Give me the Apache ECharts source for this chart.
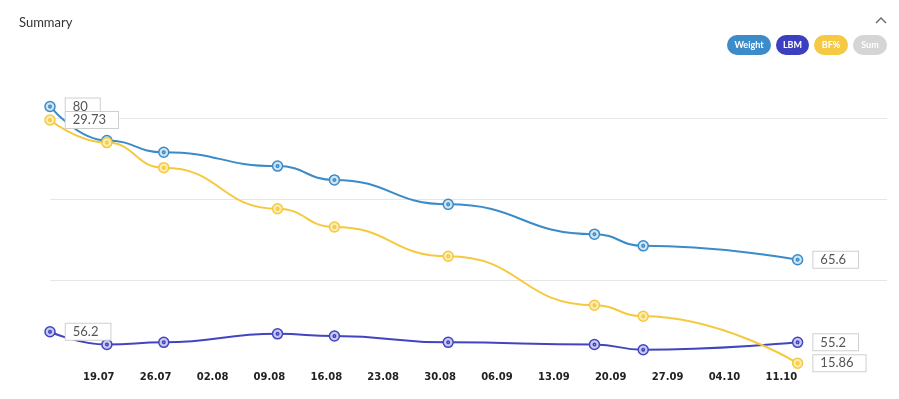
<!DOCTYPE html>
<html>
<head>
<meta charset="utf-8">
<script src="https://cdn.jsdelivr.net/npm/echarts@6/dist/echarts.min.js"></script>
<style>
  html, body { margin: 0; padding: 0; background: #fff; }
  #summary { width: 899px; height: 399px; }
</style>
</head>
<body>
<div id="summary"></div>
<script>
var dom = document.getElementById("summary");
var myChart = echarts.init(dom);

// measurement dates and values
var dates = ['2021-07-13', '2021-07-20', '2021-07-27', '2021-08-10', '2021-08-17',
             '2021-08-31', '2021-09-18', '2021-09-24', '2021-10-13'];
var weight  = [80, 76.8, 75.7, 74.4, 73.1, 70.8, 68.0, 66.9, 65.6];
var lbm     = [56.2, 55.0, 55.2, 56.0, 55.8, 55.2, 55.0, 54.5, 55.2];
var bodyFat = [29.73, 28.44, 27.01, 24.67, 23.63, 21.96, 19.17, 18.54, 15.86];

// weekly tick labels on the x axis
var tickDates = ['2021-07-19', '2021-07-26', '2021-08-02', '2021-08-09', '2021-08-16',
                 '2021-08-23', '2021-08-30', '2021-09-06', '2021-09-13', '2021-09-20',
                 '2021-09-27', '2021-10-04', '2021-10-11'];

var legendNames  = ['Weight', 'LBM', 'BF%', 'Sum'];
var legendColors = ['#3d8cca', '#3c3fc0', '#f6c945', '#d5d5d5'];

function toTime(s) {
    var p = s.split('-');
    return new Date(+p[0], +p[1] - 1, +p[2]).getTime();
}
function pad(n) { return (n < 10 ? '0' : '') + n; }

var dotSymbol = 'path://M10,0A10,10,0,1,1,9.99,0Z M10,7.5A2.5,2.5,0,1,1,9.99,7.5Z';

function makeData(values) {
    return values.map(function (v, i) {
        var edge = (i === 0 || i === values.length - 1);
        return { value: [toTime(dates[i]), v], label: { show: edge } };
    });
}

function makeSeries(name, values, axis, color, fill) {
    return {
        name: name,
        type: 'line',
        yAxisIndex: axis,
        smooth: 0.5,
        smoothMonotone: 'x',
        clip: false,
        symbol: dotSymbol,
        symbolSize: 10,
        lineStyle: { color: color, width: 2 },
        itemStyle: { color: fill, borderColor: color, borderWidth: 1.5 },
        label: {
            position: 'right',
            distance: 10,
            color: '#555',
            fontFamily: 'Lato',
            fontSize: 13,
            backgroundColor: '#fff',
            borderColor: '#cfcfcf',
            borderWidth: 1,
            padding: [2, 12, 1, 7],
            formatter: function (p) { return p.value[1]; }
        },
        data: makeData(values)
    };
}

var pills = [];
var pillX = [727, 776, 814, 853];
var pillW = [44, 33, 34, 34];
legendNames.forEach(function (name, i) {
    pills.push({
        type: 'group',
        left: pillX[i],
        top: 35,
        children: [
            { type: 'rect', shape: { x: 0, y: 0, width: pillW[i], height: 20, r: 10 },
              style: { fill: legendColors[i] } },
            { type: 'text', x: pillW[i] / 2, y: 10,
              style: { text: name, fill: '#fff', font: 'bold 9px Lato', align: 'center', verticalAlign: 'middle' } }
        ]
    });
});

option = {
    backgroundColor: '#fff',
    animation: false,
    title: {
        text: 'Summary',
        left: 14,
        top: 11,
        textStyle: { fontFamily: 'Lato', fontSize: 13, fontWeight: 'normal', color: '#333' }
    },
    graphic: pills.concat([
        { type: 'polyline', shape: { points: [[876, 23], [881, 18], [886, 23]] },
          style: { stroke: '#666', lineWidth: 1.3, fill: null } }
    ]),
    grid: { left: 50, right: 12, top: 37, bottom: 38 },
    xAxis: {
        type: 'value',
        min: toTime(dates[0]),
        max: toTime('2021-10-24'),
        axisLine: { show: false },
        axisTick: { show: false },
        splitLine: { show: false },
        axisLabel: {
            customValues: tickDates.map(toTime),
            margin: 11,
            color: '#222',
            fontFamily: 'DejaVu Sans',
            fontWeight: 'bold',
            fontSize: 10,
            formatter: function (v) {
                var d = new Date(v);
                return pad(d.getDate()) + '.' + pad(d.getMonth() + 1);
            }
        }
    },
    yAxis: [
        { type: 'value', min: 56.08, max: 86.53, show: false, splitLine: { show: false } },
        { type: 'value', min: 53.44, max: 84.0, show: false, splitLine: { show: false } },
        { type: 'value', min: 15.99, max: 34.46, show: false, splitLine: { show: false } },
        {
            type: 'value', min: 0, max: 4, interval: 1,
            axisLine: { show: false }, axisTick: { show: false }, axisLabel: { show: false },
            splitLine: { show: true, showMinLine: false, showMaxLine: false,
                         lineStyle: { color: '#e6e6e6', width: 1 } }
        }
    ],
    series: [
        makeSeries('Weight', weight, 0, '#3a8bc7', '#cfe4f5'),
        makeSeries('LBM', lbm, 1, '#4245bf', '#c9caf1'),
        makeSeries('BF%', bodyFat, 2, '#f5c93f', '#fcecb0')
    ]
};

if (option && typeof option === "object") {
    myChart.setOption(option, true);
}
</script>
</body>
</html>
